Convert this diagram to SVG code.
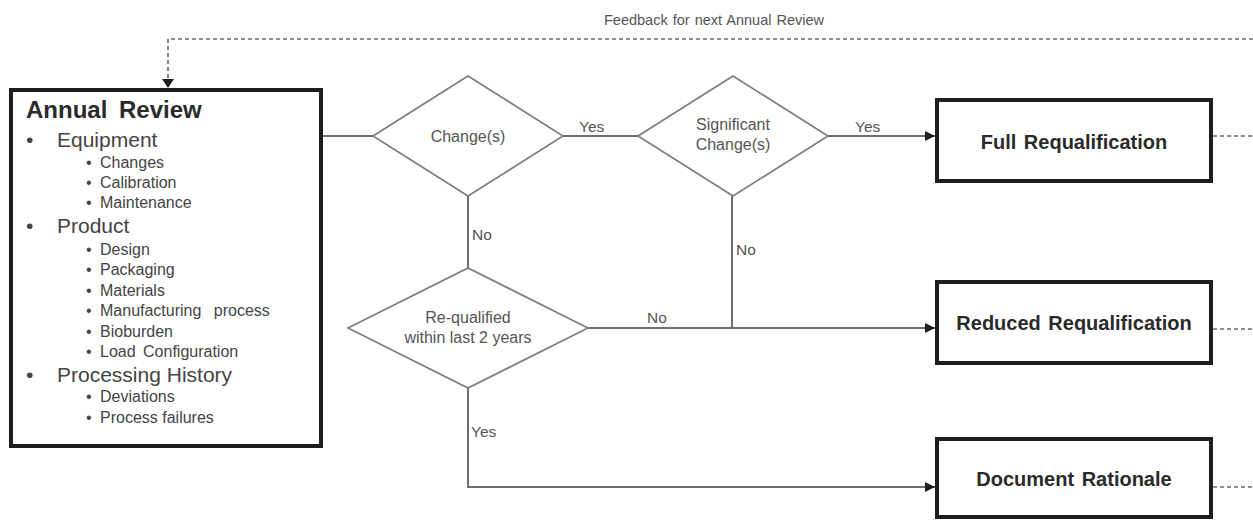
<svg xmlns="http://www.w3.org/2000/svg" width="1253" height="521" viewBox="0 0 1253 521">
<style>
  text { font-family: "Liberation Sans", Arial, sans-serif; }
  .box { fill: #ffffff; stroke: #1e1e1e; stroke-width: 4; }
  .dia { fill: #ffffff; stroke: #7a7a7a; stroke-width: 1.6; }
  .conn { fill: none; stroke: #6e6e6e; stroke-width: 2; }
  .dash { fill: none; stroke: #6a6a6a; stroke-width: 1.6; stroke-dasharray: 4 3; }
  .lbl { font-size: 15.5px; fill: #555555; }
  .dtxt { font-size: 16px; fill: #555555; text-anchor: middle; }
  .btxt { font-size: 20px; font-weight: bold; fill: #2a2a2a; text-anchor: middle; word-spacing: 2px; }
  .title { font-size: 24px; font-weight: bold; fill: #2a2a2a; word-spacing: 5px; }
  .main { font-size: 21px; fill: #444444; }
  .sub { font-size: 16px; fill: #444444; }
</style>
<defs>
  <marker id="arr" markerUnits="userSpaceOnUse" markerWidth="10" markerHeight="10" refX="10" refY="5" orient="auto">
    <path d="M0,0 L10,5 L0,10 z" fill="#1e1e1e"/>
  </marker>
</defs>
<rect width="1253" height="521" fill="#ffffff"/>

<g id="connectors">
  <path class="dash" d="M1253 39 H168 V80"/>
  <path d="M162 79 L174 79 L168 88 z" fill="#1e1e1e"/>
  <path class="dash" d="M1213 136 H1253"/>
  <path class="dash" d="M1213 329 H1253"/>
  <path class="dash" d="M1213 487 H1253"/>
  <path class="conn" d="M323 136 H373"/>
  <path class="conn" d="M563 136 H638"/>
  <path class="conn" d="M828 136 H935" marker-end="url(#arr)"/>
  <path class="conn" d="M468 196 V268"/>
  <path class="conn" d="M732 196 V328"/>
  <path class="conn" d="M588 328 H935" marker-end="url(#arr)"/>
  <path class="conn" d="M468 388 V487 H935" marker-end="url(#arr)"/>
  <text x="604" y="25" style="font-size:14.5px;fill:#555555;word-spacing:1px">Feedback for next Annual Review</text>
  <text class="lbl" x="579" y="132">Yes</text>
  <text class="lbl" x="855" y="132">Yes</text>
  <text class="lbl" x="472" y="240">No</text>
  <text class="lbl" x="736" y="255">No</text>
  <text class="lbl" x="647" y="323">No</text>
  <text class="lbl" x="471" y="437">Yes</text>
</g>

<g id="annual-review">
  <rect class="box" x="11" y="90" width="310" height="356"/>
  <text class="title" x="26" y="118">Annual Review</text>
  <text class="main" x="26" y="147">•</text>
  <text class="main" x="57" y="147">Equipment</text>
  <text class="sub" x="86" y="168">•</text><text class="sub" x="100" y="168">Changes</text>
  <text class="sub" x="86" y="188">•</text><text class="sub" x="100" y="188">Calibration</text>
  <text class="sub" x="86" y="208">•</text><text class="sub" x="100" y="208">Maintenance</text>
  <text class="main" x="26" y="233">•</text>
  <text class="main" x="57" y="233">Product</text>
  <text class="sub" x="86" y="255">•</text><text class="sub" x="100" y="255">Design</text>
  <text class="sub" x="86" y="275">•</text><text class="sub" x="100" y="275">Packaging</text>
  <text class="sub" x="86" y="296">•</text><text class="sub" x="100" y="296">Materials</text>
  <text class="sub" x="86" y="316">•</text><text class="sub" x="100" y="316" style="word-spacing:8px">Manufacturing process</text>
  <text class="sub" x="86" y="337">•</text><text class="sub" x="100" y="337">Bioburden</text>
  <text class="sub" x="86" y="357">•</text><text class="sub" x="100" y="357" style="word-spacing:3px">Load Configuration</text>
  <text class="main" x="26" y="382">•</text>
  <text class="main" x="57" y="382">Processing History</text>
  <text class="sub" x="86" y="402">•</text><text class="sub" x="100" y="402">Deviations</text>
  <text class="sub" x="86" y="423">•</text><text class="sub" x="100" y="423">Process failures</text>
</g>

<g id="changes">
  <polygon class="dia" points="373,136 468,76 563,136 468,196"/>
  <text class="dtxt" x="468" y="142">Change(s)</text>
</g>

<g id="significant-changes">
  <polygon class="dia" points="638,136 733,76 828,136 733,196"/>
  <text class="dtxt" x="733" y="130">Significant</text>
  <text class="dtxt" x="733" y="150">Change(s)</text>
</g>

<g id="requalified">
  <polygon class="dia" points="348,328 468,268 588,328 468,388"/>
  <text class="dtxt" x="468" y="323">Re-qualified</text>
  <text class="dtxt" x="468" y="343">within last 2 years</text>
</g>

<g id="full-requalification">
  <rect class="box" x="937" y="100" width="274" height="81"/>
  <text class="btxt" x="1074" y="149">Full Requalification</text>
</g>

<g id="reduced-requalification">
  <rect class="box" x="937" y="282" width="274" height="81"/>
  <text class="btxt" x="1074" y="330">Reduced Requalification</text>
</g>

<g id="document-rationale">
  <rect class="box" x="937" y="439" width="274" height="78"/>
  <text class="btxt" x="1074" y="486">Document Rationale</text>
</g>
</svg>
